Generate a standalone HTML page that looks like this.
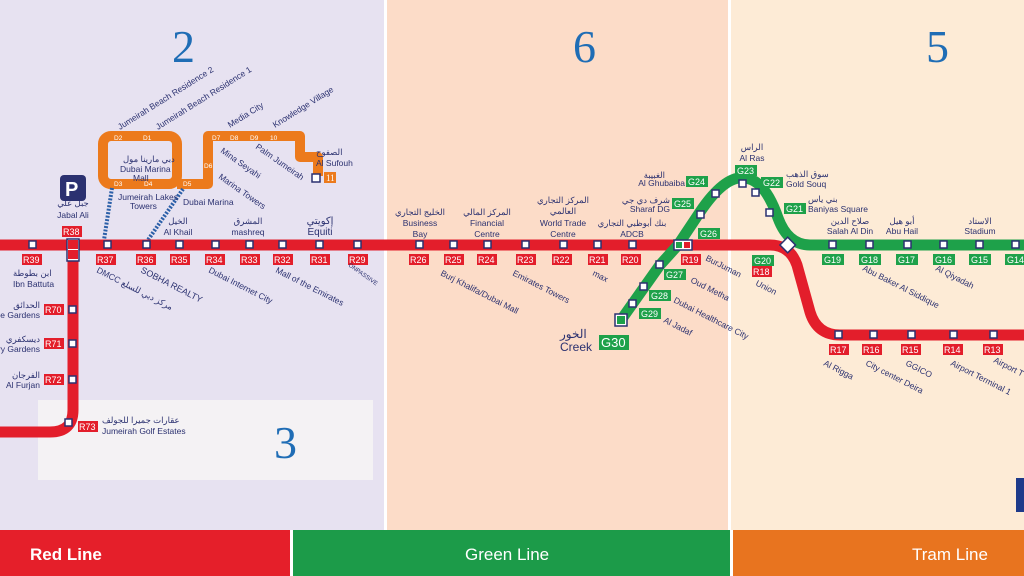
<!DOCTYPE html>
<html><head><meta charset="utf-8"><style>
body{margin:0;width:1024px;height:576px;overflow:hidden;background:#fff}
svg{display:block}
text{font-family:"Liberation Sans","Noto Sans CJK SC",sans-serif}
.n{fill:#2b3170;font-size:8.5px}
.w{fill:#fff;font-size:9px;font-family:"Liberation Serif",serif}
.big{fill:#1f6db5;font-size:46px;font-family:"Liberation Serif",serif}
</style></head><body>
<svg width="1024" height="576" viewBox="0 0 1024 576">
<rect x="0" y="0" width="384" height="530" fill="#e7e2f1"/>
<rect x="387" y="0" width="341" height="530" fill="#fcdcc8"/>
<rect x="731" y="0" width="293" height="530" fill="#fdebd6"/>
<rect x="38" y="400" width="335" height="80" fill="#f4f2f4"/>
<rect x="0" y="530" width="290" height="46" fill="#e51f2a"/>
<rect x="293" y="530" width="437" height="46" fill="#1c9b49"/>
<rect x="733" y="530" width="291" height="46" fill="#e8741f"/>
<rect x="1016" y="478" width="8" height="34" fill="#1e3a8a"/>
<text x="30" y="560" fill="#fff" font-size="17" font-weight="bold">Red Line</text>
<text x="465" y="560" fill="#fff" font-size="17">Green Line</text>
<text x="912" y="560" fill="#fff" font-size="17">Tram Line</text>
<text class="big" x="172" y="62">2</text>
<text class="big" x="573" y="62">6</text>
<text class="big" x="926" y="62">5</text>
<text class="big" x="274" y="458">3</text>

<!-- tram -->
<g fill="none" stroke="#ec7a1c" stroke-width="10" stroke-linejoin="round">
<rect x="103" y="136" width="74" height="48" rx="8"/>
<path d="M177 184 H208 V136 H300 V157 H318 V176"/>
</g>
<g fill="#2b5fa8">
<path d="M112 188 L104 240" stroke="#2b5fa8" stroke-width="4" stroke-dasharray="2 1.5"/>
<path d="M183 189 L148 240" stroke="#2b5fa8" stroke-width="4" stroke-dasharray="2 1.5"/>
</g>
<g font-size="6.5" fill="#fff" font-family="Liberation Serif,serif">
<text x="114" y="140">D2</text><text x="143" y="140">D1</text><text x="114" y="186">D3</text><text x="144" y="186">D4</text><text x="183" y="186">D5</text><text x="204" y="168">D6</text><text x="212" y="140">D7</text><text x="230" y="140">D8</text><text x="250" y="140">D9</text><text x="270" y="140">10</text>
</g>
<rect x="312" y="174" width="8" height="8" fill="#fff" stroke="#2b3170" stroke-width="1.5"/>
<rect x="324" y="172" width="12" height="11" fill="#ec7a1c"/><text x="326" y="181" class="w">11</text>
<text class="n" x="316" y="155" font-size="8">الصفوح</text><text class="n" x="316" y="166">Al Sufouh</text>
<text class="n" x="123" y="162" font-size="7">دبي مارينا مول</text><text class="n" x="120" y="172" font-size="7">Dubai Marina</text><text class="n" x="133" y="181" font-size="7">Mall</text>
<text class="n" x="118" y="200" font-size="7">Jumeirah Lakes</text><text class="n" x="130" y="209" font-size="7">Towers</text>
<text class="n" x="183" y="205" font-size="7">Dubai Marina</text>
<g class="n" font-size="6.5">
<text transform="translate(120,130) rotate(-32)">Jumeirah Beach Residence 2</text>
<text transform="translate(158,130) rotate(-32)">Jumeirah Beach Residence 1</text>
<text transform="translate(230,128) rotate(-32)">Media City</text>
<text transform="translate(275,128) rotate(-32)">Knowledge Village</text>
<text transform="translate(220,152) rotate(35)">Mina Seyahi</text>
<text transform="translate(255,148) rotate(35)">Palm Jumeirah</text>
<text transform="translate(218,178) rotate(35)">Marina Towers</text>
</g>
<rect x="60" y="175" width="26" height="26" rx="4" fill="#2b3170"/><text x="65" y="196" fill="#fff" font-size="20" font-weight="bold">P</text>

<!-- red line -->
<g fill="none" stroke="#e31e2b" stroke-width="11">
<path d="M0 245 H770 Q790 245 797 265 L810 312 Q817 335 840 335 H1024"/>
<path d="M73 245 V410 Q73 432 50 432 H0"/>
</g>
<!-- green line -->
<path d="M621 320 L660 265 L678 245 L700 212 Q725 175 745 178 Q765 180 778 218 Q788 245 810 245 H1024" fill="none" stroke="#1ea14a" stroke-width="11"/>

<g fill="#fff" stroke="#2b3170" stroke-width="1.5">
<rect x="29" y="241" width="7" height="7"/><rect x="67" y="239" width="12" height="22"/>
<rect x="104" y="241" width="7" height="7"/><rect x="143" y="241" width="7" height="7"/><rect x="176" y="241" width="7" height="7"/><rect x="212" y="241" width="7" height="7"/><rect x="246" y="241" width="7" height="7"/><rect x="279" y="241" width="7" height="7"/><rect x="316" y="241" width="7" height="7"/><rect x="354" y="241" width="7" height="7"/>
<rect x="69" y="306" width="7" height="7"/><rect x="69" y="340" width="7" height="7"/><rect x="69" y="376" width="7" height="7"/><rect x="65" y="419" width="7" height="7"/>
<rect x="416" y="241" width="7" height="7"/><rect x="450" y="241" width="7" height="7"/><rect x="484" y="241" width="7" height="7"/><rect x="522" y="241" width="7" height="7"/><rect x="560" y="241" width="7" height="7"/><rect x="594" y="241" width="7" height="7"/><rect x="629" y="241" width="7" height="7"/>
<rect x="674" y="240" width="18" height="10"/>
<rect x="835" y="331" width="7" height="7"/><rect x="870" y="331" width="7" height="7"/><rect x="908" y="331" width="7" height="7"/><rect x="950" y="331" width="7" height="7"/><rect x="990" y="331" width="7" height="7"/>
<rect x="829" y="241" width="7" height="7"/><rect x="866" y="241" width="7" height="7"/><rect x="904" y="241" width="7" height="7"/><rect x="940" y="241" width="7" height="7"/><rect x="976" y="241" width="7" height="7"/><rect x="1012" y="241" width="7" height="7"/>
<rect x="766" y="209" width="7" height="7"/><rect x="752" y="189" width="7" height="7"/><rect x="739" y="180" width="7" height="7"/><rect x="712" y="190" width="7" height="7"/><rect x="697" y="211" width="7" height="7"/>
<rect x="656" y="261" width="7" height="7"/><rect x="640" y="283" width="7" height="7"/><rect x="629" y="300" width="7" height="7"/><rect x="615" y="314" width="12" height="12"/>
<rect x="782" y="239" width="11" height="11" transform="rotate(45 787 245)"/>
</g>
<rect x="68" y="240" width="10" height="9" fill="#e31e2b"/><rect x="68" y="250" width="10" height="9" fill="#e31e2b"/>
<rect x="676" y="242" width="6" height="6" fill="#1ea14a"/><rect x="684" y="242" width="6" height="6" fill="#e31e2b"/>
<rect x="617" y="316" width="8" height="8" fill="#1ea14a"/>

<g fill="#e31e2b">
<rect x="22" y="254" width="20" height="11"/><rect x="62" y="226" width="20" height="11"/><rect x="96" y="254" width="20" height="11"/><rect x="136" y="254" width="20" height="11"/><rect x="170" y="254" width="20" height="11"/><rect x="205" y="254" width="20" height="11"/><rect x="240" y="254" width="20" height="11"/><rect x="273" y="254" width="20" height="11"/><rect x="310" y="254" width="20" height="11"/><rect x="348" y="254" width="20" height="11"/>
<rect x="44" y="304" width="20" height="11"/><rect x="44" y="338" width="20" height="11"/><rect x="44" y="374" width="20" height="11"/><rect x="78" y="421" width="20" height="11"/>
<rect x="409" y="254" width="20" height="11"/><rect x="444" y="254" width="20" height="11"/><rect x="477" y="254" width="20" height="11"/><rect x="516" y="254" width="20" height="11"/><rect x="552" y="254" width="20" height="11"/><rect x="588" y="254" width="20" height="11"/><rect x="621" y="254" width="20" height="11"/><rect x="681" y="254" width="20" height="11"/>
<rect x="752" y="266" width="20" height="11"/><rect x="829" y="344" width="20" height="11"/><rect x="862" y="344" width="20" height="11"/><rect x="901" y="344" width="20" height="11"/><rect x="943" y="344" width="20" height="11"/><rect x="983" y="344" width="20" height="11"/>
</g>
<g class="w">
<text x="23" y="263">R39</text><text x="63" y="235">R38</text><text x="97" y="263">R37</text><text x="137" y="263">R36</text><text x="171" y="263">R35</text><text x="206" y="263">R34</text><text x="241" y="263">R33</text><text x="274" y="263">R32</text><text x="311" y="263">R31</text><text x="349" y="263">R29</text>
<text x="45" y="313">R70</text><text x="45" y="347">R71</text><text x="45" y="383">R72</text><text x="79" y="430">R73</text>
<text x="410" y="263">R26</text><text x="445" y="263">R25</text><text x="478" y="263">R24</text><text x="517" y="263">R23</text><text x="553" y="263">R22</text><text x="589" y="263">R21</text><text x="622" y="263">R20</text><text x="682" y="263">R19</text>
<text x="753" y="275">R18</text><text x="830" y="353">R17</text><text x="863" y="353">R16</text><text x="902" y="353">R15</text><text x="944" y="353">R14</text><text x="984" y="353">R13</text>
</g>
<g fill="#1ea14a">
<rect x="822" y="254" width="22" height="11"/><rect x="859" y="254" width="22" height="11"/><rect x="896" y="254" width="22" height="11"/><rect x="933" y="254" width="22" height="11"/><rect x="969" y="254" width="22" height="11"/><rect x="1005" y="254" width="22" height="11"/>
<rect x="752" y="255" width="22" height="11"/><rect x="784" y="203" width="22" height="11"/><rect x="761" y="177" width="22" height="11"/><rect x="735" y="165" width="22" height="11"/><rect x="686" y="176" width="22" height="11"/><rect x="672" y="198" width="22" height="11"/><rect x="698" y="228" width="22" height="11"/>
<rect x="664" y="269" width="22" height="11"/><rect x="649" y="290" width="22" height="11"/><rect x="639" y="308" width="22" height="11"/><rect x="599" y="335" width="30" height="15"/>
</g>
<g class="w">
<text x="824" y="263">G19</text><text x="861" y="263">G18</text><text x="898" y="263">G17</text><text x="935" y="263">G16</text><text x="971" y="263">G15</text><text x="1007" y="263">G14</text>
<text x="754" y="264">G20</text><text x="786" y="212">G21</text><text x="763" y="186">G22</text><text x="737" y="174">G23</text><text x="688" y="185">G24</text><text x="674" y="207">G25</text><text x="700" y="237">G26</text>
<text x="666" y="278">G27</text><text x="651" y="299">G28</text><text x="641" y="317">G29</text><text x="601" y="347" font-size="13">G30</text>
</g>
<text x="560" y="338" fill="#2b3170" font-size="12">الخور</text><text x="560" y="351" fill="#2b3170" font-size="12">Creek</text>

<g class="n" text-anchor="middle">
<text x="73" y="206">جبل علي</text><text x="73" y="218">Jabal Ali</text>
<text x="178" y="224">الخيل</text><text x="178" y="235">Al Khail</text>
<text x="248" y="224">المشرق</text><text x="248" y="235">mashreq</text>
<text x="320" y="224" font-size="10">إكويتي</text><text x="320" y="235" font-size="10">Equiti</text>
<text x="420" y="215">الخليج التجاري</text><text x="420" y="226">Business</text><text x="420" y="237">Bay</text>
<text x="487" y="215">المركز المالي</text><text x="487" y="226">Financial</text><text x="487" y="237">Centre</text>
<text x="563" y="203">المركز التجاري</text><text x="563" y="214">العالمي</text><text x="563" y="226">World Trade</text><text x="563" y="237">Centre</text>
<text x="632" y="226">بنك أبوظبي التجاري</text><text x="632" y="237">ADCB</text>
<text x="752" y="150">الراس</text><text x="752" y="161">Al Ras</text>
<text x="850" y="224">صلاح الدين</text><text x="850" y="234">Salah Al Din</text>
<text x="902" y="224">أبو هيل</text><text x="902" y="234">Abu Hail</text>
<text x="980" y="224">الاستاد</text><text x="980" y="234">Stadium</text>
</g>
<g class="n">
<text x="665" y="178" text-anchor="end">الغبيبة</text><text x="685" y="186" text-anchor="end">Al Ghubaiba</text>
<text x="670" y="203" text-anchor="end">شرف دي جي</text><text x="670" y="212" text-anchor="end">Sharaf DG</text>
<text x="786" y="177">سوق الذهب</text><text x="786" y="187">Gold Souq</text>
<text x="808" y="202">بني ياس</text><text x="808" y="212">Baniyas Square</text>
<text x="13" y="276">ابن بطوطة</text><text x="13" y="287">Ibn Battuta</text>
<text x="40" y="308" text-anchor="end">الحدائق</text><text x="40" y="318" text-anchor="end">e Gardens</text>
<text x="40" y="342" text-anchor="end">ديسكفري</text><text x="40" y="352" text-anchor="end">ry Gardens</text>
<text x="40" y="378" text-anchor="end">الفرجان</text><text x="40" y="388" text-anchor="end">Al Furjan</text>
<text x="102" y="423">عقارات جميرا للجولف</text><text x="102" y="434">Jumeirah Golf Estates</text>
</g>
<g class="n" font-size="8">
<text transform="translate(96,272) rotate(27)">DMCC  مركز دبي للسلع</text>
<text transform="translate(140,272) rotate(27)" font-size="9">SOBHA REALTY</text>
<text transform="translate(208,272) rotate(27)">Dubai Internet City</text>
<text transform="translate(275,272) rotate(27)">Mall of the Emirates</text>
<text transform="translate(348,266) rotate(35)" font-size="6">ONPASSIVE</text>
<text transform="translate(440,275) rotate(27)">Burj Khalifa/Dubai Mall</text>
<text transform="translate(512,275) rotate(27)">Emirates Towers</text>
<text transform="translate(592,275) rotate(27)">max</text>
<text transform="translate(705,260) rotate(27)">BurJuman</text>
<text transform="translate(690,282) rotate(27)">Oud Metha</text>
<text transform="translate(673,302) rotate(27)">Dubai Healthcare City</text>
<text transform="translate(663,322) rotate(27)">Al Jadaf</text>
<text transform="translate(755,285) rotate(27)">Union</text>
<text transform="translate(862,270) rotate(27)">Abu Baker Al Siddique</text>
<text transform="translate(935,270) rotate(27)">Al Qiyadah</text>
<text transform="translate(823,365) rotate(27)">Al Rigga</text>
<text transform="translate(865,365) rotate(27)">City center Deira</text>
<text transform="translate(905,365) rotate(27)">GGICO</text>
<text transform="translate(950,365) rotate(27)">Airport Terminal 1</text>
<text transform="translate(993,362) rotate(27)">Airport T</text>
</g>
</svg>
</body></html>
